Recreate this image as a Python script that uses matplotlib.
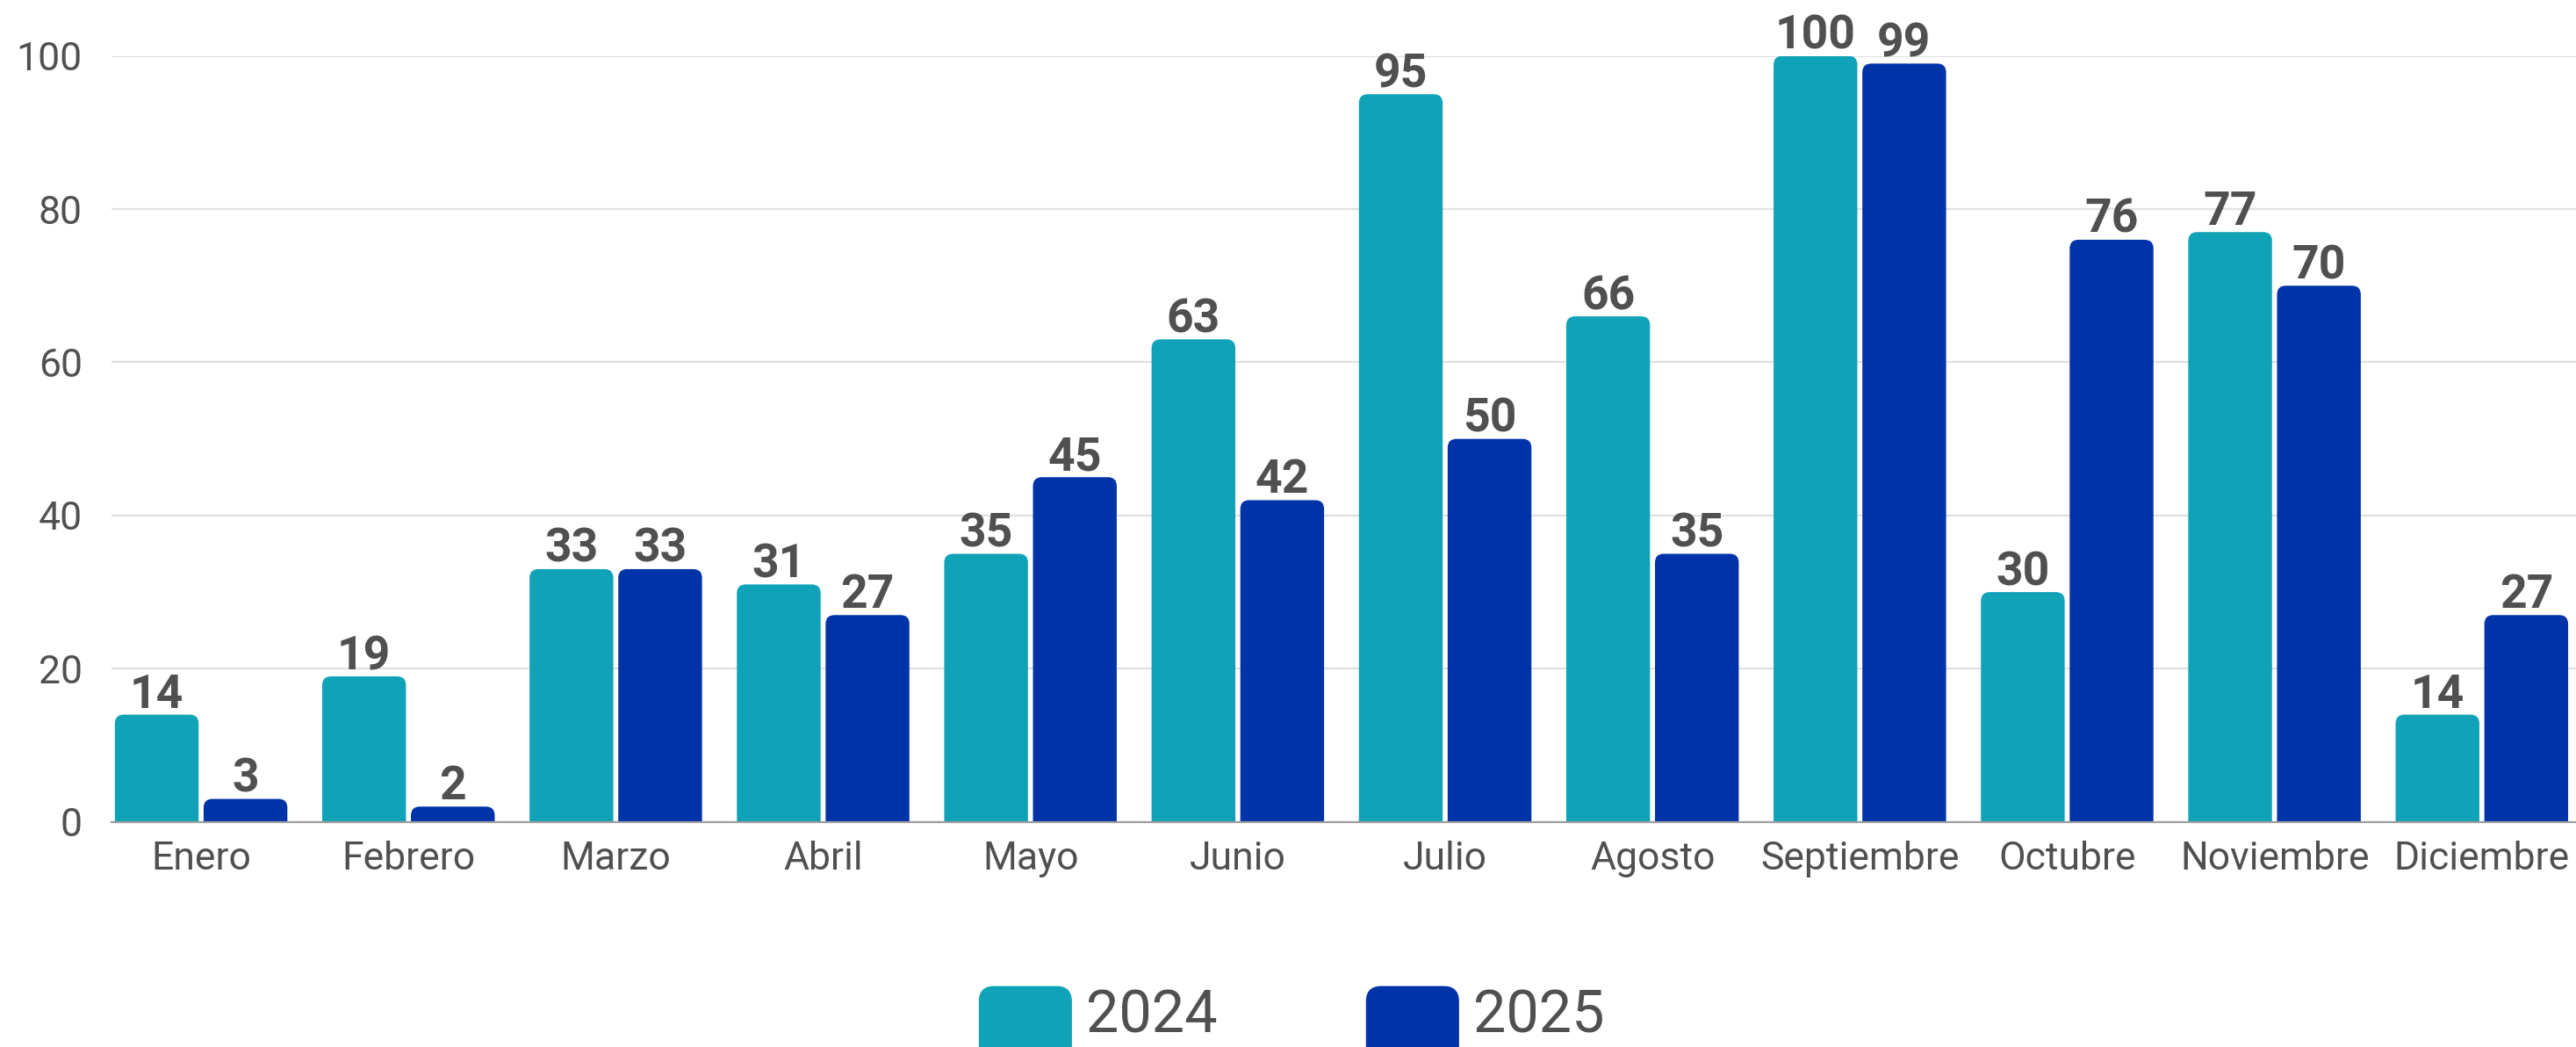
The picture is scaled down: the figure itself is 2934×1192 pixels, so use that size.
#!/usr/bin/env python3
"""Monthly bar chart, 2024 vs 2025."""

import matplotlib

matplotlib.use("Agg")
import matplotlib.pyplot as plt
import numpy as np
from matplotlib.legend_handler import HandlerPatch
from matplotlib.patches import FancyBboxPatch, Patch

months = [
    "Enero", "Febrero", "Marzo", "Abril", "Mayo", "Junio",
    "Julio", "Agosto", "Septiembre", "Octubre", "Noviembre", "Diciembre",
]
values_2024 = [14, 19, 33, 31, 35, 63, 95, 66, 100, 30, 77, 14]
values_2025 = [3, 2, 33, 27, 45, 42, 50, 35, 99, 76, 70, 27]
series_names = ["2024", "2025"]
series_colors = ["#10a3b7", "#0033a8"]
y_ticks = [0, 20, 40, 60, 80, 100]

TEXT = "#505050"
plt.rcParams["font.family"] = ["Roboto", "DejaVu Sans"]

DPI = 100
fig = plt.figure(figsize=(2934 / DPI, 1192 / DPI), dpi=DPI)
ax = fig.add_axes([0.0433, 0.215, 0.9567, 0.7316])

x = np.arange(len(months))
xlim = (-0.432, 11.454)
ylim = (0, 100)
ax.set_xlim(*xlim)
ax.set_ylim(*ylim)

# pixel scale of data units, used to keep the rounded tops circular
bbox = ax.get_position()
px_per_x = bbox.width * fig.get_figwidth() * DPI / (xlim[1] - xlim[0])
px_per_y = bbox.height * fig.get_figheight() * DPI / (ylim[1] - ylim[0])
aspect = px_per_x / px_per_y
radius_px = 10

width = 0.404
offset = 0.214
for values, color, sign in zip(
    (values_2024, values_2025), series_colors, (-1, 1)
):
    bars = ax.bar(x + sign * offset, values, width=width, color=color)
    for bar in bars:
        bx, bw, bh = bar.get_x(), bar.get_width(), bar.get_height()
        r = radius_px / px_per_x
        extra = radius_px / px_per_y
        rounded = FancyBboxPatch(
            (bx, -extra), bw, bh + extra,
            boxstyle=f"round,pad=0,rounding_size={r}",
            mutation_aspect=aspect,
            facecolor=color, edgecolor="none", zorder=2,
        )
        bar.remove()
        ax.add_patch(rounded)
        ax.annotate(
            f"{bh:g}", (bx + bw / 2, bh), xytext=(0, 8),
            textcoords="offset pixels", ha="center", va="baseline",
            fontsize=38.5, fontweight="bold", color=TEXT,
        )

ax.set_yticks(y_ticks)
ax.set_xticks(x, months)
ax.tick_params(axis="y", length=0, pad=24, labelsize=32, labelcolor=TEXT)
ax.tick_params(axis="x", length=0, pad=15.5, labelsize=32, labelcolor=TEXT)
ax.grid(axis="y", color="#e0e0e0", linewidth=1.6, zorder=0)
ax.set_axisbelow(True)
for side in ("top", "right", "left"):
    ax.spines[side].set_visible(False)
ax.spines["bottom"].set_color("#9e9e9e")
ax.spines["bottom"].set_linewidth(1.6)
ax.spines["bottom"].set_zorder(3)


def rounded_handle(legend, orig_handle, xdescent, ydescent, width, height, fontsize):
    return FancyBboxPatch(
        (-xdescent, -ydescent - 0.45 * height), width, 1.45 * height,
        boxstyle="round,pad=0,rounding_size=12",
    )


handles = [Patch(color=c, label=n) for c, n in zip(series_colors, series_names)]
fig.legend(
    handles=handles, loc="upper center", bbox_to_anchor=(0.5015, 0.080),
    ncol=2, frameon=False, fontsize=48, labelcolor=TEXT,
    handlelength=1.57, handleheight=1.0, handletextpad=0.25,
    columnspacing=2.55, borderaxespad=0,
    handler_map={Patch: HandlerPatch(patch_func=rounded_handle)},
)

fig.savefig("out.png", dpi=DPI)
